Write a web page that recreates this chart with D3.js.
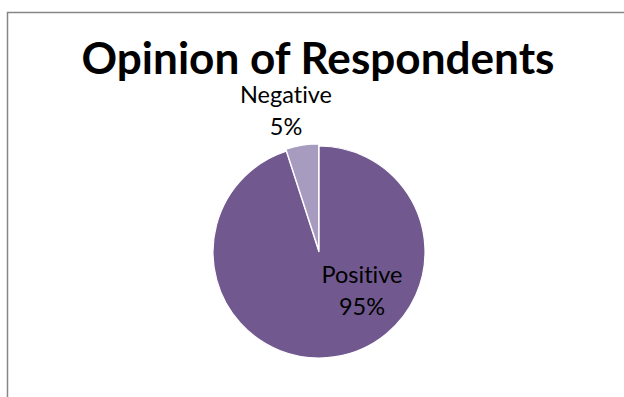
<!DOCTYPE html>
<html><head><meta charset="utf-8">
<script src="https://cdn.jsdelivr.net/npm/d3@7"></script>
<style>html,body{margin:0;padding:0;background:#fff;}svg{display:block;}text{font-variant-ligatures:none;}</style>
</head><body>
<script>
const title = "Opinion of Respondents";
const categories = ["Positive", "Negative"];
const values = [95, 5];
const colors = ["#71598F", "#A89BC0"];

const W = 624, H = 397;
const svg = d3.select("body").append("svg").attr("width", W).attr("height", H);

svg.append("rect").attr("x", 7.5).attr("y", 12.5).attr("width", 622).attr("height", 420)
  .attr("fill", "#fff").attr("stroke", "#868686").attr("stroke-width", 1.5);

const t = svg.append("text").attr("x", 318).attr("y", 74).attr("text-anchor", "middle")
  .style("font-family", "Lato, 'Open Sans', sans-serif").style("font-weight", 700)
  .style("font-size", "36px").attr("fill", "#000").text(title);
const tw = t.node().getComputedTextLength();
t.style("font-size", (36 * 473 / tw) + "px");

const cx = 319, cy = 252, r = 106;
const pie = d3.pie().sort(null).value(d => d)(values);
const arc = d3.arc().innerRadius(0).outerRadius(r);
const g = svg.append("g").attr("transform", `translate(${cx},${cy})`);
const explode = [0, 2];
g.selectAll("path").data(pie).join("path")
  .attr("d", arc)
  .attr("transform", (d, i) => {
    const a = (d.startAngle + d.endAngle) / 2;
    return `translate(${Math.sin(a) * explode[i]},${-Math.cos(a) * explode[i]})`;
  })
  .attr("fill", (d, i) => colors[i])
  .attr("stroke", "#fff").attr("stroke-width", 1.2);

const total = d3.sum(values);
const labelPos = [[362, 283], [286, 103]];
categories.forEach((c, i) => {
  const tx = svg.append("text").attr("text-anchor", "middle")
    .style("font-family", "Lato, 'Open Sans', sans-serif").style("font-size", "23.5px")
    .attr("fill", "#000");
  tx.append("tspan").attr("x", labelPos[i][0]).attr("y", labelPos[i][1]).text(c);
  tx.append("tspan").attr("x", labelPos[i][0]).attr("y", labelPos[i][1] + 32)
    .text(Math.round(values[i] / total * 100) + "%");
});
</script>
</body></html>
